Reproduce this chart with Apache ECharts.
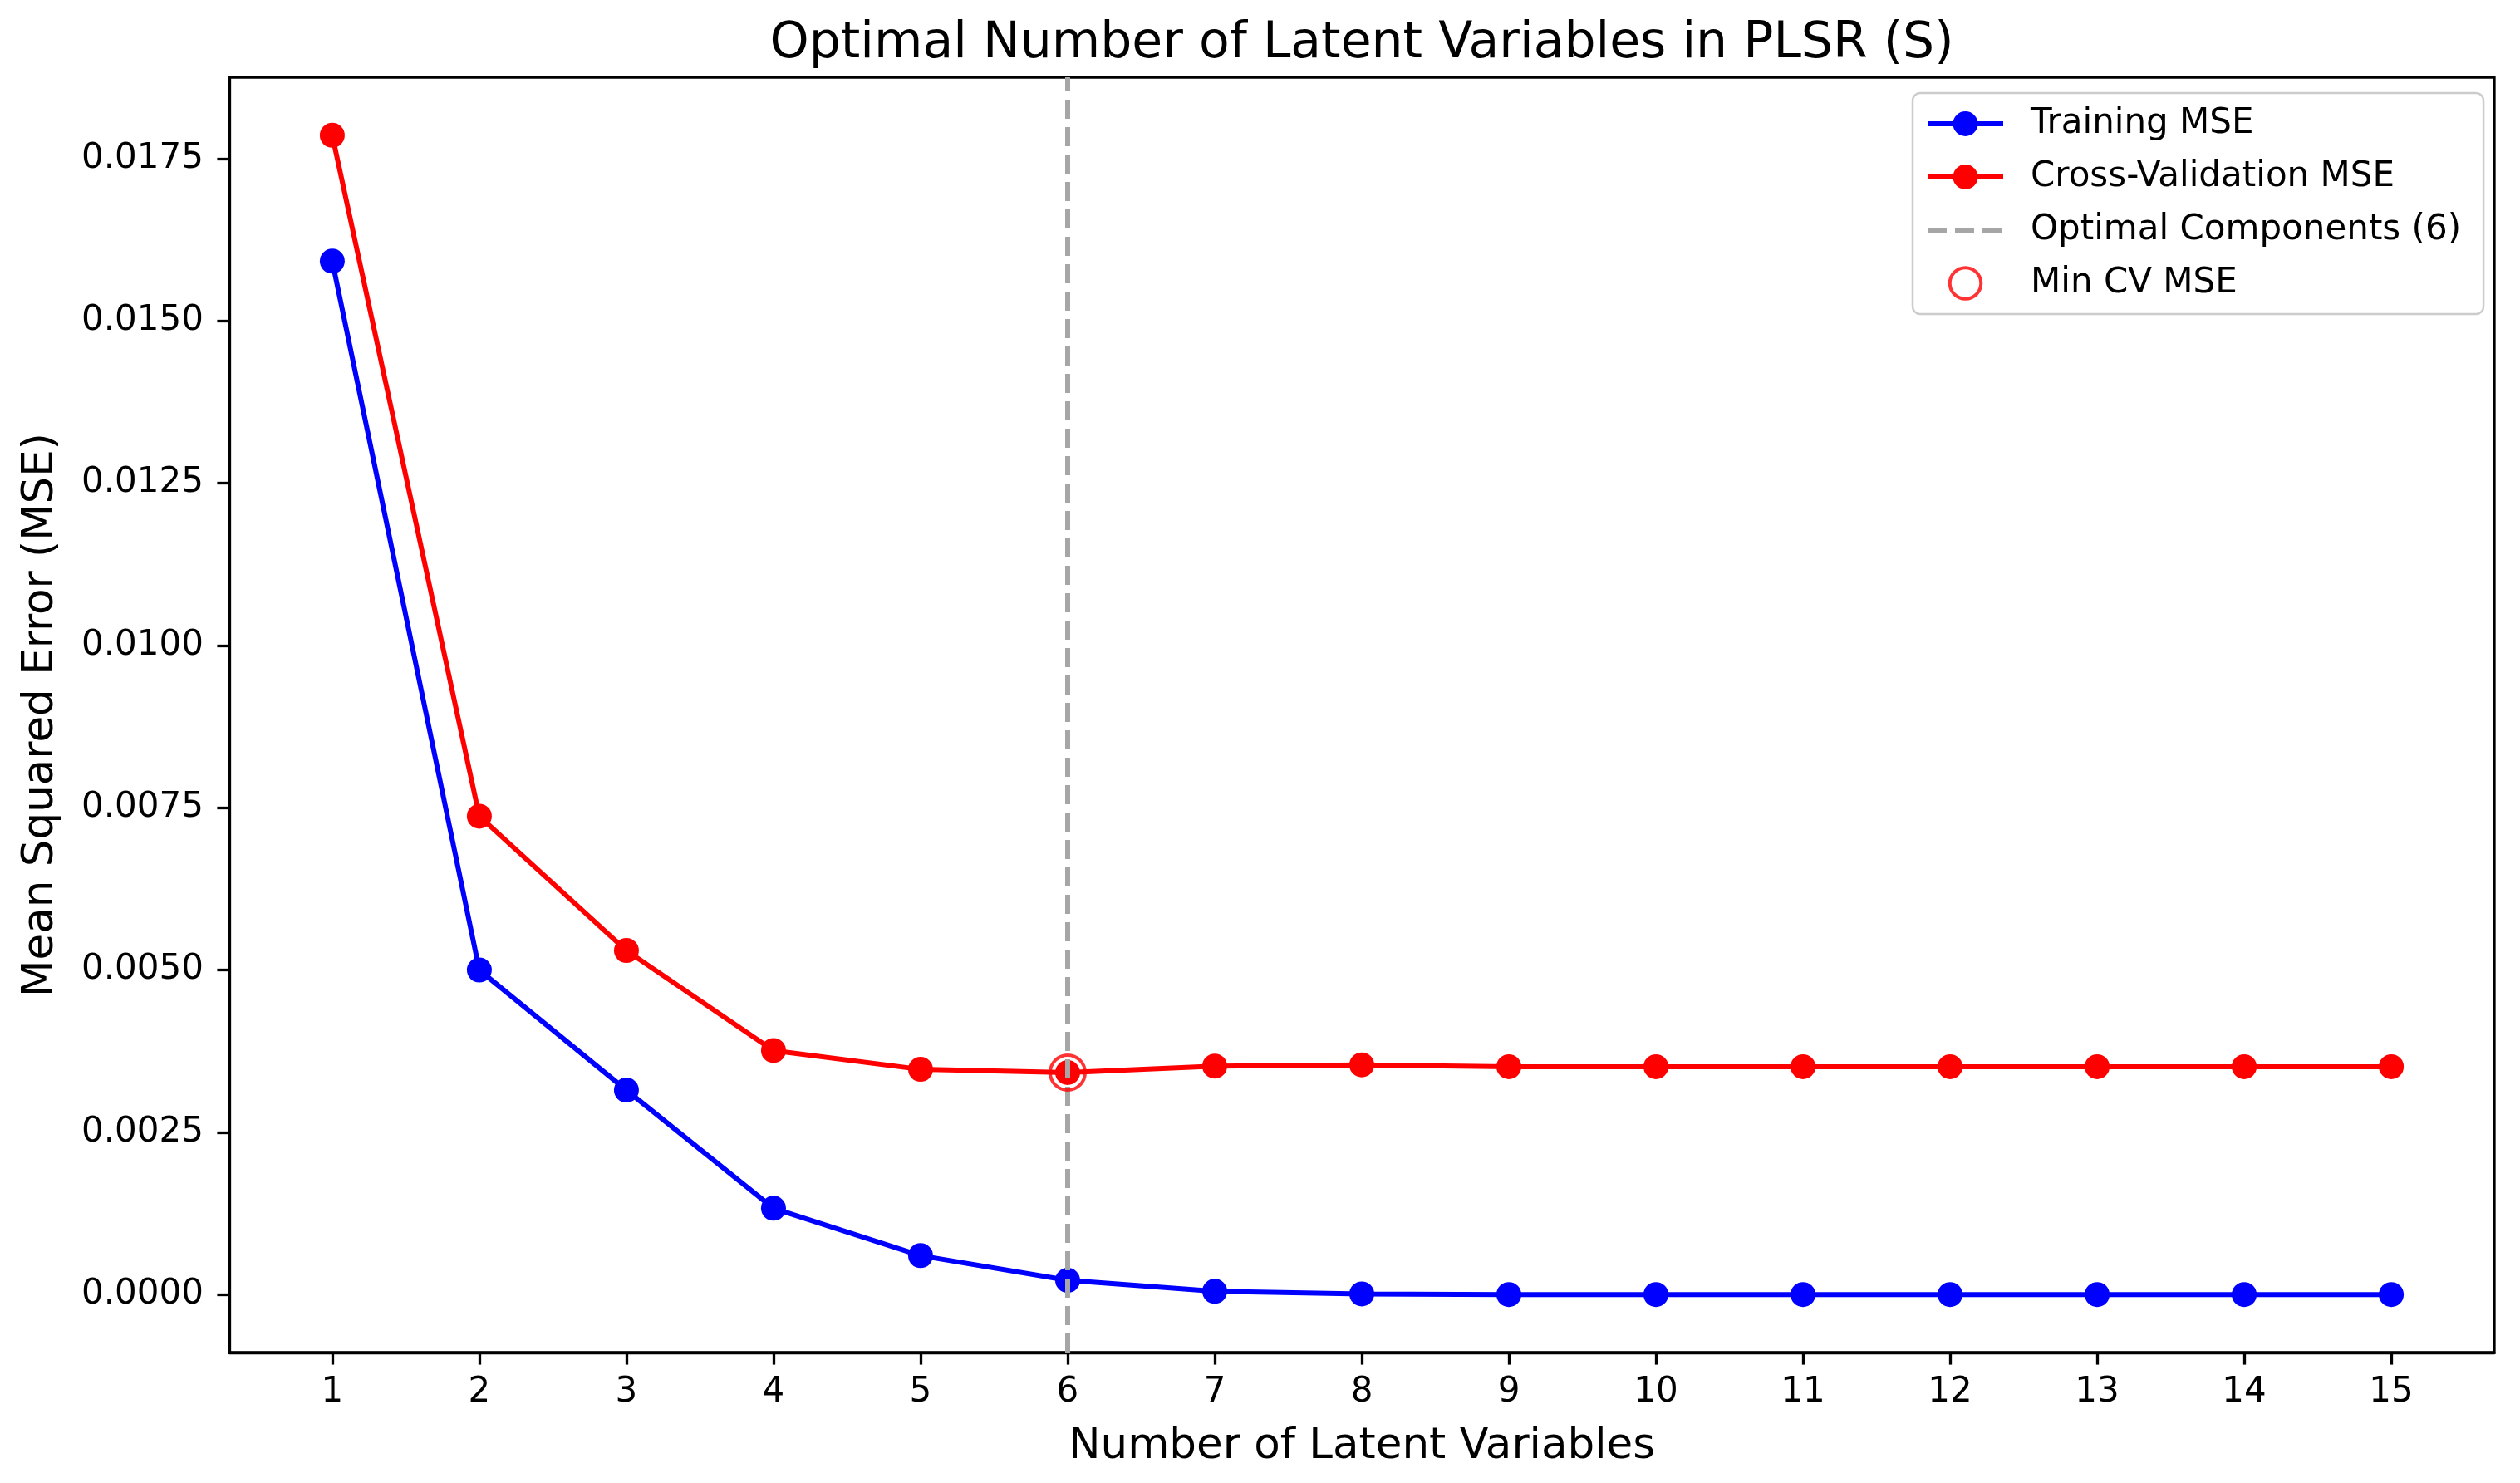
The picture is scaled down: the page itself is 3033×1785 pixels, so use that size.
<!DOCTYPE html>
<html>
<head>
<meta charset="utf-8">
<script src="https://cdn.jsdelivr.net/npm/echarts@6/dist/echarts.min.js"></script>
<style>
html,body{margin:0;padding:0;background:#ffffff;}
#chart{width:3033px;height:1785px;}
</style>
</head>
<body>
<div id="chart"></div>
<script>
// ---- data ----
const components = [1,2,3,4,5,6,7,8,9,10,11,12,13,14,15];
const trainingMSE = [0.01592,0.00500,0.00315,0.00133,0.00060,0.00022,0.00005,0.00001,0.00000,0.00000,0.00000,0.00000,0.00000,0.00000,0.00000];
const cvMSE = [0.01786,0.00737,0.00530,0.00376,0.00347,0.00342,0.00352,0.00354,0.00351,0.00351,0.00351,0.00351,0.00351,0.00351,0.00351];
const yTickValues = [0,0.0025,0.005,0.0075,0.01,0.0125,0.015,0.0175];
const xTickValues = components;
const titleText = 'Optimal Number of Latent Variables in PLSR (S)';
const xLabel = 'Number of Latent Variables';
const yLabel = 'Mean Squared Error (MSE)';

// ---- derived ----
let minIdx = 0;
cvMSE.forEach((v,i)=>{ if (v < cvMSE[minIdx]) minIdx = i; });
const optimalN = components[minIdx];
const allVals = trainingMSE.concat(cvMSE);
const dMax = Math.max(...allVals), dMin = Math.min(...allVals);
const yPad = 0.05*(dMax-dMin);
const xPad = 0.05*(components[components.length-1]-components[0]);

const W = 3033, H = 1785;
const gridLeft = 276, gridRight = 31, gridTop = 93, gridBottom = 157;
const FONT = '"DejaVu Sans", "Liberation Sans", sans-serif';

const chart = echarts.init(document.getElementById('chart'), null, {renderer:'canvas', width: W, height: H});

const dashStyle = {color:'#a6a6a6', width:6, type:[23,10]};

chart.setOption({
  animation: false,
  backgroundColor: '#ffffff',
  textStyle: {fontFamily: FONT},
  graphic: [{
    type: 'text',
    x: gridLeft + (W - gridLeft - gridRight)/2,
    y: 53,
    style: {
      text: titleText,
      fill: '#000000',
      font: '60px ' + FONT,
      align: 'center', verticalAlign: 'middle',
      textAlign: 'center', textVerticalAlign: 'middle'
    }
  }],
  grid: {
    left: gridLeft, right: gridRight, top: gridTop, bottom: gridBottom,
    show: true, borderColor: '#000000', borderWidth: 3.3, backgroundColor: 'transparent',
    containLabel: false, outerBoundsMode: 'none'
  },
  legend: {
    orient: 'vertical',
    left: 2302, top: 112,
    padding: [16, 27, 16, 15],
    backgroundColor: 'rgba(255,255,255,0.85)',
    borderColor: '#cccccc', borderWidth: 2.5, borderRadius: 9,
    itemWidth: 91, itemHeight: 37.5, itemGap: 22,
    lineStyle: {width: 6},
    textStyle: {fontFamily: FONT, fontSize: 42, color: '#000000', lineHeight: 42, padding: [0,0,0,28]},
    data: [
      {name: 'Training MSE', lineStyle: {width: 6, color: '#0000ff'}},
      {name: 'Cross-Validation MSE', lineStyle: {width: 6, color: '#ff0000'}},
      {name: 'Optimal Components (6)', lineStyle: {width: 6, color: '#a6a6a6', type: [23,10]}},
      {name: 'Min CV MSE', itemStyle: {color: 'rgba(0,0,0,0)', borderColor: '#ff0000', borderWidth: 4}}
    ]
  },
  xAxis: {
    type: 'value',
    min: components[0] - xPad, max: components[components.length-1] + xPad,
    name: xLabel, nameLocation: 'middle', nameGap: 88,
    nameTextStyle: {fontFamily: FONT, fontSize: 51.5, color: '#000000'},
    axisLine: {show: true, onZero: false, lineStyle: {color:'#000000', width:3.3}},
    axisTick: {show: true, inside: false, length: 14.6, lineStyle: {color:'#000000', width:3.3}, customValues: xTickValues},
    axisLabel: {show: true, margin: 27, fontFamily: FONT, fontSize: 42, color: '#000000', customValues: xTickValues,
      formatter: v => String(Math.round(v))},
    splitLine: {show: false}
  },
  yAxis: {
    type: 'value',
    min: dMin - yPad, max: dMax + yPad,
    name: yLabel, nameLocation: 'middle', nameGap: 200,
    nameTextStyle: {fontFamily: FONT, fontSize: 51.5, color: '#000000'},
    axisLine: {show: true, onZero: false, lineStyle: {color:'#000000', width:3.3}},
    axisTick: {show: true, inside: false, length: 14.6, lineStyle: {color:'#000000', width:3.3}, customValues: yTickValues},
    axisLabel: {show: true, margin: 31, fontFamily: FONT, fontSize: 42, color: '#000000', customValues: yTickValues,
      formatter: v => v.toFixed(4)},
    splitLine: {show: false}
  },
  series: [
    {
      name: 'Training MSE', type: 'line',
      data: components.map((c,i)=>[c, trainingMSE[i]]),
      symbol: 'circle', symbolSize: 30, showSymbol: true,
      lineStyle: {color:'#0000ff', width:6},
      itemStyle: {color:'#0000ff'},
      emphasis: {disabled: true}, z: 3
    },
    {
      name: 'Cross-Validation MSE', type: 'line',
      data: components.map((c,i)=>[c, cvMSE[i]]),
      symbol: 'circle', symbolSize: 30, showSymbol: true,
      lineStyle: {color:'#ff0000', width:6},
      itemStyle: {color:'#ff0000'},
      emphasis: {disabled: true}, z: 3
    },
    {
      name: 'Optimal Components (6)', type: 'line',
      data: [],
      symbol: 'none',
      lineStyle: dashStyle,
      itemStyle: {color:'#a6a6a6', opacity: 0},
      z: 4,
      markLine: {
        silent: true, symbol: ['none','none'], animation: false,
        label: {show: false},
        lineStyle: dashStyle,
        emphasis: {disabled: true},
        data: [{xAxis: optimalN}]
      }
    },
    {
      name: 'Min CV MSE', type: 'scatter',
      data: [[optimalN, cvMSE[minIdx]]],
      symbol: 'circle', symbolSize: 42,
      itemStyle: {color: 'rgba(0,0,0,0)', borderColor: '#ff0000', borderWidth: 4},
      emphasis: {disabled: true}, z: 5
    }
  ]
});
</script>
</body>
</html>
